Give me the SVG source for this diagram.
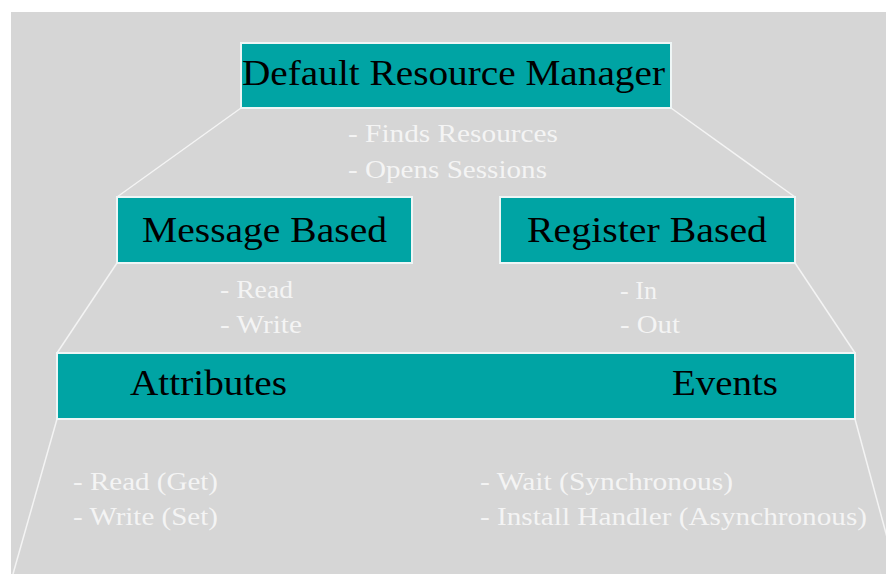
<svg xmlns="http://www.w3.org/2000/svg" width="886" height="574" viewBox="0 0 886 574">
<style>
.box{fill:#00a4a4;stroke:#eef6f6;stroke-width:2}
.title{font-family:"Liberation Serif","Times New Roman",serif;font-size:35px;fill:#000}
.title2{font-family:"Liberation Serif","Times New Roman",serif;font-size:36px;fill:#000}
.note{font-family:"Liberation Serif","Times New Roman",serif;font-size:25.5px;fill:#f4f4f4}
.conn{stroke:#f4f4f4;stroke-width:1.5;fill:none}
</style>
<rect x="0" y="0" width="886" height="574" fill="#ffffff"/>
<rect x="11" y="12" width="875" height="562" fill="#d6d6d6"/>
<g id="connectors">
<line class="conn" x1="241" y1="108" x2="117" y2="197"/>
<line class="conn" x1="671" y1="108" x2="795" y2="197"/>
<line class="conn" x1="117" y1="263" x2="57" y2="353"/>
<line class="conn" x1="795" y1="263" x2="855" y2="353"/>
<line class="conn" x1="57" y1="419" x2="13" y2="574"/>
<line class="conn" x1="855" y1="419" x2="897" y2="574"/>
</g>
<g id="default-resource-manager">
<rect class="box" x="241" y="43" width="430" height="65"/>
<text class="title" x="242" y="85" textLength="423" lengthAdjust="spacingAndGlyphs">Default Resource Manager</text>
<text class="note" x="348" y="142" textLength="210" lengthAdjust="spacingAndGlyphs">- Finds Resources</text>
<text class="note" x="348" y="178" textLength="199" lengthAdjust="spacingAndGlyphs">- Opens Sessions</text>
</g>
<g id="message-based">
<rect class="box" x="117" y="197" width="295" height="66"/>
<text class="title2" x="142" y="242" textLength="245" lengthAdjust="spacingAndGlyphs">Message Based</text>
<text class="note" x="220" y="298" textLength="73" lengthAdjust="spacingAndGlyphs">- Read</text>
<text class="note" x="220" y="333" textLength="82" lengthAdjust="spacingAndGlyphs">- Write</text>
</g>
<g id="register-based">
<rect class="box" x="500" y="197" width="295" height="66"/>
<text class="title2" x="527" y="242" textLength="240" lengthAdjust="spacingAndGlyphs">Register Based</text>
<text class="note" x="620" y="299" textLength="37" lengthAdjust="spacingAndGlyphs">- In</text>
<text class="note" x="620" y="333" textLength="60" lengthAdjust="spacingAndGlyphs">- Out</text>
</g>
<g id="attributes-events">
<rect class="box" x="57" y="353" width="798" height="66"/>
</g>
<g id="attributes">
<text class="title" x="130" y="395" textLength="157" lengthAdjust="spacingAndGlyphs">Attributes</text>
<text class="note" x="73" y="490" textLength="145" lengthAdjust="spacingAndGlyphs">- Read (Get)</text>
<text class="note" x="73" y="525" textLength="145" lengthAdjust="spacingAndGlyphs">- Write (Set)</text>
</g>
<g id="events">
<text class="title" x="672" y="395" textLength="106" lengthAdjust="spacingAndGlyphs">Events</text>
<text class="note" x="480" y="490" textLength="253" lengthAdjust="spacingAndGlyphs">- Wait (Synchronous)</text>
<text class="note" x="480" y="525" textLength="387" lengthAdjust="spacingAndGlyphs">- Install Handler (Asynchronous)</text>
</g>
</svg>
